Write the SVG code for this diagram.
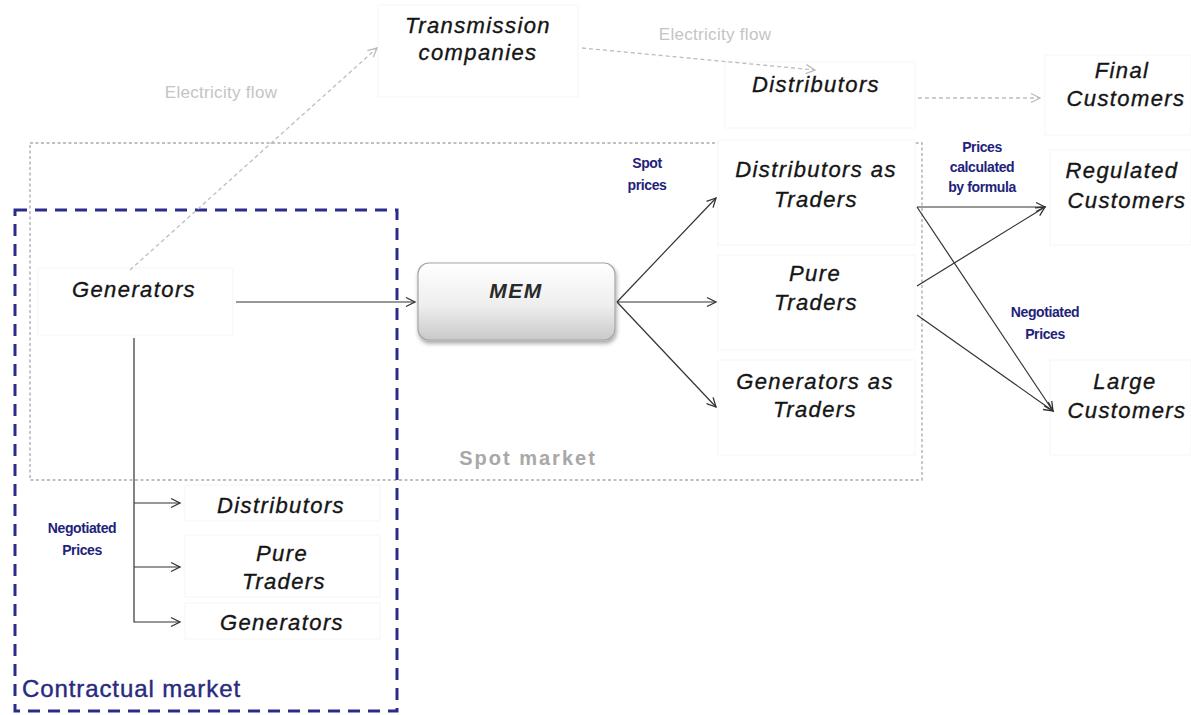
<svg xmlns="http://www.w3.org/2000/svg" width="1191" height="715" viewBox="0 0 1191 715">
  <defs>
    <marker id="arr" markerWidth="12" markerHeight="12" refX="10" refY="6" orient="auto" markerUnits="userSpaceOnUse">
      <path d="M1,1.5 L10,6 L1,10.5" fill="none" stroke="#333" stroke-width="1.3"/>
    </marker>
    <marker id="arrGrey" markerWidth="12" markerHeight="12" refX="10" refY="6" orient="auto" markerUnits="userSpaceOnUse">
      <path d="M1,1.5 L10,6 L1,10.5" fill="none" stroke="#bbb" stroke-width="1.3"/>
    </marker>
    <linearGradient id="memFill" x1="0" y1="0" x2="0" y2="1">
      <stop offset="0" stop-color="#ffffff"/>
      <stop offset="0.55" stop-color="#eeeeee"/>
      <stop offset="1" stop-color="#c9c9c9"/>
    </linearGradient>
    <filter id="shadow" x="-10%" y="-10%" width="125%" height="135%">
      <feDropShadow dx="1" dy="3" stdDeviation="2" flood-color="#000" flood-opacity="0.35"/>
    </filter>
  </defs>
  <style>
    .node { font-family: "Liberation Sans", Arial, sans-serif; font-style: italic; font-size: 22px; letter-spacing: 1.4px; fill: #151515; stroke: #151515; stroke-width: 0.35px; text-anchor: middle; }
    .nbox { fill: #fff; stroke: #f9f9f9; stroke-width: 1.5; }
    .blue { font-family: "Liberation Sans", Arial, sans-serif; font-weight: bold; font-size: 14px; fill: #22227a; text-anchor: middle; letter-spacing: -0.4px; }
    .flow { font-family: "Liberation Sans", Arial, sans-serif; font-size: 17px; fill: #c4c4c4; text-anchor: middle; letter-spacing: 0.3px; }
    .edge { stroke: #333; stroke-width: 1.2; fill: none; }
    .eflow { stroke: #bdbdbd; stroke-width: 1.3; stroke-dasharray: 4 3; fill: none; }
  </style>

  <rect width="1191" height="715" fill="#fff"/>

  <!-- market regions -->
  <g id="spot-market">
    <rect x="30" y="143" width="892" height="337" fill="none" stroke="#aaa" stroke-width="1.3" stroke-dasharray="3 2.5"/>
    <text x="528" y="465" font-family="Liberation Sans, Arial, sans-serif" font-weight="bold" font-size="20" letter-spacing="2" fill="#a8a8a8" text-anchor="middle">Spot market</text>
  </g>
  <g id="contractual-market">
    <rect x="15" y="210" width="382" height="501" fill="none" stroke="#2b2b8c" stroke-width="3" stroke-dasharray="12 8"/>
    <text x="22" y="697" font-family="Liberation Sans, Arial, sans-serif" font-size="24" letter-spacing="0.9" fill="#2a2a80" stroke="#2a2a80" stroke-width="0.4">Contractual market</text>
  </g>

  <!-- nodes -->
  <g id="transmission">
    <rect class="nbox" x="378" y="5" width="200" height="92"/>
    <text class="node" x="478" y="33">Transmission</text>
    <text class="node" x="478" y="60">companies</text>
  </g>
  <g id="distributors-top">
    <rect class="nbox" x="725" y="62" width="190" height="66"/>
    <text class="node" x="816" y="92">Distributors</text>
  </g>
  <g id="final-customers">
    <rect class="nbox" x="1045" y="55" width="146" height="80"/>
    <text class="node" x="1122" y="78">Final</text>
    <text class="node" x="1126" y="106">Customers</text>
  </g>
  <g id="generators">
    <rect class="nbox" x="38" y="268" width="195" height="67"/>
    <text class="node" x="134" y="297">Generators</text>
  </g>
  <g id="mem">
    <rect x="418" y="263" width="197" height="77" rx="11" fill="url(#memFill)" stroke="#a5a5a5" stroke-width="1.2" filter="url(#shadow)"/>
    <text x="516" y="298" font-family="Liberation Sans, Arial, sans-serif" font-style="italic" font-weight="bold" font-size="21" letter-spacing="1.5" fill="#2a2a2a" text-anchor="middle">MEM</text>
  </g>
  <g id="distributors-traders">
    <rect class="nbox" x="718" y="140" width="197" height="105"/>
    <text class="node" x="816" y="177">Distributors as</text>
    <text class="node" x="816" y="207">Traders</text>
  </g>
  <g id="pure-traders">
    <rect class="nbox" x="718" y="255" width="197" height="95"/>
    <text class="node" x="815" y="281">Pure</text>
    <text class="node" x="816" y="310">Traders</text>
  </g>
  <g id="generators-traders">
    <rect class="nbox" x="718" y="360" width="197" height="95"/>
    <text class="node" x="815" y="389">Generators as</text>
    <text class="node" x="815" y="417">Traders</text>
  </g>
  <g id="regulated-customers">
    <rect class="nbox" x="1050" y="150" width="141" height="95"/>
    <text class="node" x="1122" y="178">Regulated</text>
    <text class="node" x="1127" y="208">Customers</text>
  </g>
  <g id="large-customers">
    <rect class="nbox" x="1050" y="360" width="141" height="95"/>
    <text class="node" x="1125" y="389">Large</text>
    <text class="node" x="1127" y="418">Customers</text>
  </g>
  <g id="distributors-contract">
    <rect class="nbox" x="185" y="485" width="195" height="36"/>
    <text class="node" x="281" y="513">Distributors</text>
  </g>
  <g id="pure-traders-contract">
    <rect class="nbox" x="185" y="535" width="195" height="62"/>
    <text class="node" x="282" y="561">Pure</text>
    <text class="node" x="284" y="589">Traders</text>
  </g>
  <g id="generators-contract">
    <rect class="nbox" x="185" y="603" width="195" height="36"/>
    <text class="node" x="282" y="630">Generators</text>
  </g>

  <!-- connectors -->
  <g id="connectors">
    <!-- electricity flow -->
    <line class="eflow" x1="130" y1="270" x2="377" y2="48" marker-end="url(#arrGrey)"/>
    <line class="eflow" x1="582" y1="48" x2="815" y2="70" marker-end="url(#arrGrey)"/>
    <line class="eflow" x1="918" y1="98" x2="1040" y2="98" marker-end="url(#arrGrey)"/>

    <!-- spot market -->
    <line class="edge" x1="236" y1="302" x2="415" y2="302" marker-end="url(#arr)"/>
    <line class="edge" x1="617" y1="302" x2="716" y2="198" marker-end="url(#arr)"/>
    <line class="edge" x1="617" y1="302" x2="716" y2="302" marker-end="url(#arr)"/>
    <line class="edge" x1="617" y1="302" x2="716" y2="407" marker-end="url(#arr)"/>

    <!-- to customers -->
    <line class="edge" x1="917" y1="207" x2="1045" y2="207" marker-end="url(#arr)"/>
    <line class="edge" x1="917" y1="207" x2="1053" y2="411" marker-end="url(#arr)"/>
    <line class="edge" x1="917" y1="286" x2="1045" y2="207" marker-end="url(#arr)"/>
    <line class="edge" x1="917" y1="315" x2="1053" y2="411" marker-end="url(#arr)"/>

    <!-- contractual market -->
    <polyline class="edge" points="134,338 134,622 180,622" marker-end="url(#arr)"/>
    <line class="edge" x1="134" y1="503" x2="180" y2="503" marker-end="url(#arr)"/>
    <line class="edge" x1="134" y1="567" x2="180" y2="567" marker-end="url(#arr)"/>

    <!-- connector labels -->
    <text class="flow" x="221" y="98">Electricity flow</text>
    <text class="flow" x="715" y="40">Electricity flow</text>
    <text class="blue" x="647" y="168">Spot</text>
    <text class="blue" x="647" y="190">prices</text>
    <text class="blue" x="982" y="152">Prices</text>
    <text class="blue" x="982" y="172">calculated</text>
    <text class="blue" x="982" y="192">by formula</text>
    <text class="blue" x="1045" y="317">Negotiated</text>
    <text class="blue" x="1045" y="339">Prices</text>
    <text class="blue" x="82" y="533">Negotiated</text>
    <text class="blue" x="82" y="555">Prices</text>
  </g>
</svg>
